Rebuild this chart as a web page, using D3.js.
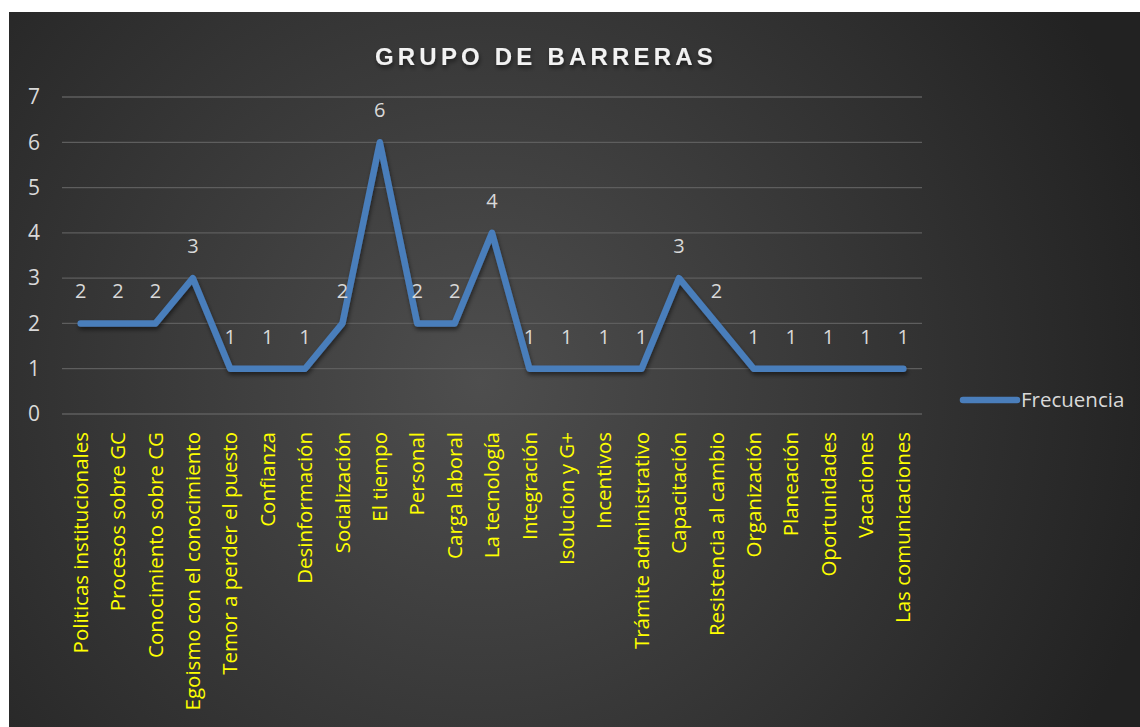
<!DOCTYPE html>
<html>
<head>
<meta charset="utf-8">
<script src="https://cdn.jsdelivr.net/npm/d3@7"></script>
<style>
  body { margin: 0; background: #fff; }
  svg { display: block; }
</style>
</head>
<body>
<svg id="chart" width="1140" height="727"></svg>
<script>
let categories = [
  "Politicas institucionales", "Procesos sobre GC", "Conocimiento sobre CG",
  "Egoismo con el conocimiento", "Temor a perder el puesto", "Confianza",
  "Desinformación", "Socialización", "El tiempo", "Personal", "Carga laboral",
  "La tecnología", "Integración", "Isolucion y G+", "Incentivos",
  "Trámite administrativo", "Capacitación", "Resistencia al cambio",
  "Organización", "Planeación", "Oportunidades", "Vacaciones",
  "Las comunicaciones"
];
let frecuencia = [2, 2, 2, 3, 1, 1, 1, 2, 6, 2, 2, 4, 1, 1, 1, 1, 3, 2, 1, 1, 1, 1, 1];
let y_ticks = [0, 1, 2, 3, 4, 5, 6, 7];
let series_name = "Frecuencia";
let title = "GRUPO DE BARRERAS";

let svg = d3.select("#chart");

let frame = { x: 9, y: 12, width: 1131, height: 715 };
let plot = { left: 62, right: 922, top: 97, bottom: 414 };

// background
let defs = svg.append("defs");
let grad = defs.append("radialGradient")
  .attr("id", "bg")
  .attr("gradientUnits", "userSpaceOnUse")
  .attr("cx", 480).attr("cy", 380).attr("r", 700);
grad.append("stop").attr("offset", "0%").attr("stop-color", "#4e4e4e");
grad.append("stop").attr("offset", "100%").attr("stop-color", "#222222");

let shadow = defs.append("filter").attr("id", "shadow")
  .attr("x", "-10%").attr("y", "-10%").attr("width", "120%").attr("height", "130%");
shadow.append("feDropShadow")
  .attr("dx", 1).attr("dy", 3).attr("stdDeviation", 2)
  .attr("flood-color", "#000").attr("flood-opacity", 0.5);

svg.append("rect")
  .attr("x", frame.x).attr("y", frame.y)
  .attr("width", frame.width).attr("height", frame.height)
  .attr("fill", "url(#bg)");

// title
svg.append("text")
  .attr("x", 546).attr("y", 65)
  .attr("text-anchor", "middle")
  .attr("font-family", "Liberation Sans, Arial, sans-serif")
  .attr("font-weight", "bold")
  .attr("font-size", 24)
  .attr("letter-spacing", 4.2)
  .attr("fill", "#f2f2f2")
  .attr("filter", "url(#shadow)")
  .text(title);

let scale_x = d3.scaleBand()
  .domain(categories)
  .range([plot.left, plot.right]);

let scale_y = d3.scaleLinear()
  .domain([0, 7])
  .range([plot.bottom, plot.top]);

// gridlines
svg.append("g")
  .selectAll("line")
  .data(y_ticks)
  .join("line")
  .attr("x1", plot.left).attr("x2", plot.right)
  .attr("y1", d => scale_y(d)).attr("y2", d => scale_y(d))
  .attr("stroke", "#5e5e5e")
  .attr("stroke-width", 1.3);

// y axis
let axis_y = d3.axisLeft(scale_y)
  .tickValues(y_ticks)
  .tickFormat(d3.format("d"))
  .tickSize(0)
  .tickPadding(22);
let gy = svg.append("g")
  .attr("transform", "translate(" + plot.left + ",0)")
  .call(axis_y);
gy.select(".domain").remove();
gy.selectAll("text")
  .attr("font-family", "Open Sans, sans-serif")
  .attr("font-size", 21)
  .attr("fill", "#d9d9d9");

// x axis
let axis_x = d3.axisBottom(scale_x).tickSize(0).tickPadding(0);
let gx = svg.append("g")
  .attr("transform", "translate(0," + plot.bottom + ")")
  .call(axis_x);
gx.select(".domain").remove();
gx.selectAll("text")
  .attr("font-family", "Open Sans, sans-serif")
  .attr("font-size", 20.5)
  .attr("fill", "#ffff00")
  .attr("text-anchor", "end")
  .attr("dy", "0.35em")
  .attr("transform", "translate(0,18) rotate(-90)")
  .attr("x", 0).attr("y", 0);

// line
let cx = d => scale_x(d) + scale_x.bandwidth() / 2;
let line = d3.line()
  .x((d, i) => cx(categories[i]))
  .y(d => scale_y(d));

svg.append("path")
  .datum(frecuencia)
  .attr("d", line)
  .attr("fill", "none")
  .attr("stroke", "#4a7ebb")
  .attr("stroke-width", 6.5)
  .attr("stroke-linejoin", "round")
  .attr("stroke-linecap", "round")
  .attr("filter", "url(#shadow)");

// data labels
svg.append("g")
  .selectAll("text")
  .data(frecuencia)
  .join("text")
  .attr("x", (d, i) => cx(categories[i]))
  .attr("y", d => scale_y(d) - 25)
  .attr("text-anchor", "middle")
  .attr("font-family", "Open Sans, sans-serif")
  .attr("font-size", 20)
  .attr("fill", "#d9d9d9")
  .text(d => d);

// legend
svg.append("line")
  .attr("x1", 963).attr("x2", 1017)
  .attr("y1", 400).attr("y2", 400)
  .attr("stroke", "#4a7ebb")
  .attr("stroke-width", 6.5)
  .attr("stroke-linecap", "round");
svg.append("text")
  .attr("x", 1021).attr("y", 400)
  .attr("dy", "0.35em")
  .attr("font-family", "Open Sans, sans-serif")
  .attr("font-size", 20.5)
  .attr("fill", "#d9d9d9")
  .text(series_name);
</script>
</body>
</html>
